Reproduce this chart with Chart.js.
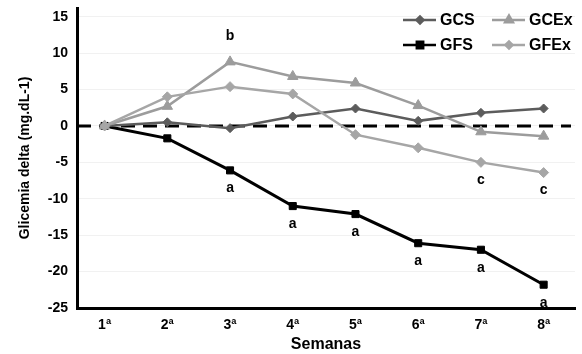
<!DOCTYPE html>
<html>
<head>
<meta charset="utf-8">
<script src="https://cdn.jsdelivr.net/npm/chart.js@4/dist/chart.umd.min.js"></script>
<style>
  html, body { margin: 0; padding: 0; background: #fff; }
  #wrap { width: 582px; height: 354px; position: relative; }
</style>
</head>
<body>
<div id="wrap"><canvas id="chart"></canvas></div>
<script>
// data
const weeks = ["1ª", "2ª", "3ª", "4ª", "5ª", "6ª", "7ª", "8ª"];
const gcs  = [0, 0.5, -0.3, 1.3, 2.4, 0.7, 1.8, 2.4];
const gcex = [0, 2.7, 8.8, 6.8, 5.9, 2.8, -0.8, -1.4];
const gfs  = [0, -1.7, -6.1, -11.0, -12.1, -16.1, -17.0, -21.8];
const gfex = [0, 4.0, 5.4, 4.4, -1.2, -3.0, -5.0, -6.4];
const yTicks = [15, 10, 5, 0, -5, -10, -15, -20, -25];

// significance letters: [series, week index, letter, above?]
const letters = [
    ["gcex", 2, "b", true],
    ["gfs", 2, "a", false], ["gfs", 3, "a", false], ["gfs", 4, "a", false],
    ["gfs", 5, "a", false], ["gfs", 6, "a", false], ["gfs", 7, "a", false],
    ["gfex", 6, "c", false], ["gfex", 7, "c", false]
];

const FONT = "'Liberation Sans', Arial, sans-serif";

function pts(arr) {
    return arr.map((v, i) => ({ x: i + 1, y: v }));
}

const series = {
    gcs:  { label: "GCS",  data: gcs,  color: "#5c5c5c", style: "rectRot",  r: 4.5, lr: 3.5, w: 2.5 },
    gcex: { label: "GCEx", data: gcex, color: "#9c9c9c", style: "triangle", r: 6,   lr: 4.5, w: 2.5 },
    gfs:  { label: "GFS",  data: gfs,  color: "#000000", style: "rect",     r: 5,   lr: 4.5, w: 3 },
    gfex: { label: "GFEx", data: gfex, color: "#a6a6a6", style: "rectRot",  r: 5,   lr: 3.5, w: 2.5 }
};
// first one ends up on top
const order = ["gfex", "gcex", "gcs", "gfs"];

const datasets = order.map(k => {
    const s = series[k];
    return {
        label: s.label,
        data: pts(s.data),
        borderColor: s.color,
        backgroundColor: s.color,
        borderWidth: s.w,
        pointStyle: s.style,
        pointRadius: s.r,
        pointHoverRadius: s.r,
        pointBorderWidth: 1,
        tension: 0
    };
});

const extras = {
    id: "extras",
    beforeDatasetsDraw(chart) {
        const { ctx, chartArea, scales } = chart;
        const y0 = scales.y.getPixelForValue(0);
        ctx.save();
        ctx.strokeStyle = "#000";
        ctx.lineWidth = 3;
        ctx.setLineDash([14, 8]);
        ctx.beginPath();
        ctx.moveTo(chartArea.left, y0);
        ctx.lineTo(chartArea.right - 4, y0);
        ctx.stroke();
        ctx.restore();
    },
    afterDraw(chart) {
        const { ctx, scales } = chart;
        ctx.save();
        ctx.fillStyle = "#000";
        ctx.font = "bold 14px " + FONT;
        ctx.textAlign = "center";
        ctx.textBaseline = "middle";
        letters.forEach(([k, i, txt, above]) => {
            const x = scales.x.getPixelForValue(i + 1);
            const y = scales.y.getPixelForValue(series[k].data[i]);
            ctx.fillText(txt, x, above ? y - 26 : y + 18);
        });

        // legend, two rows
        const items = [
            ["gcs", 403, 20], ["gcex", 492, 20],
            ["gfs", 403, 45], ["gfex", 492, 45]
        ];
        ctx.font = "bold 16px " + FONT;
        ctx.textAlign = "left";
        items.forEach(([k, lx, ly]) => {
            const s = series[k];
            ctx.strokeStyle = s.color;
            ctx.fillStyle = s.color;
            ctx.lineWidth = 2.5;
            ctx.setLineDash([]);
            ctx.beginPath();
            ctx.moveTo(lx, ly);
            ctx.lineTo(lx + 33, ly);
            ctx.stroke();
            Chart.helpers.drawPoint(ctx, { pointStyle: s.style, radius: s.lr, rotation: 0, borderWidth: 1 }, lx + 17, ly);
            ctx.fillStyle = "#000";
            ctx.fillText(s.label, lx + 37, ly + 1);
        });
        ctx.restore();
    }
};

new Chart(document.getElementById("chart"), {
    type: "line",
    data: { datasets },
    options: {
        responsive: true,
        maintainAspectRatio: false,
        animation: false,
        layout: { padding: { left: 0, right: 0, top: 8, bottom: 0 } },
        plugins: { legend: { display: false }, tooltip: { enabled: false } },
        scales: {
            x: {
                type: "linear",
                min: 0.56,
                max: 8.5,
                afterBuildTicks: axis => { axis.ticks = weeks.map((_, i) => ({ value: i + 1 })); },
                afterFit: scale => { scale.height = 46; },
                grid: { display: false, drawTicks: false },
                border: { color: "#000", width: 3 },
                ticks: {
                    callback: v => weeks[v - 1],
                    color: "#000",
                    font: { family: FONT, size: 14, weight: "bold" },
                    padding: 9,
                    maxRotation: 0
                },
                title: {
                    display: true,
                    text: "Semanas",
                    color: "#000",
                    font: { family: FONT, size: 16, weight: "bold" },
                    padding: { top: 0, bottom: 0 }
                }
            },
            y: {
                min: -25,
                max: 16.2,
                afterBuildTicks: axis => { axis.ticks = yTicks.map(v => ({ value: v })); },
                afterFit: scale => {
                    scale.width = 77;
                    scale.paddingTop = 0;
                    scale.paddingBottom = 0;
                },
                grid: { color: "#f1f1f1", lineWidth: 1, drawTicks: false },
                border: { color: "#000", width: 3 },
                ticks: {
                    color: "#000",
                    font: { family: FONT, size: 14, weight: "bold" },
                    padding: 9
                },
                title: {
                    display: true,
                    text: "Glicemia delta (mg.dL-1)",
                    color: "#000",
                    font: { family: FONT, size: 14, weight: "bold" },
                    padding: { top: 17, bottom: 4 }
                }
            }
        }
    },
    plugins: [extras]
});
</script>
</body>
</html>
